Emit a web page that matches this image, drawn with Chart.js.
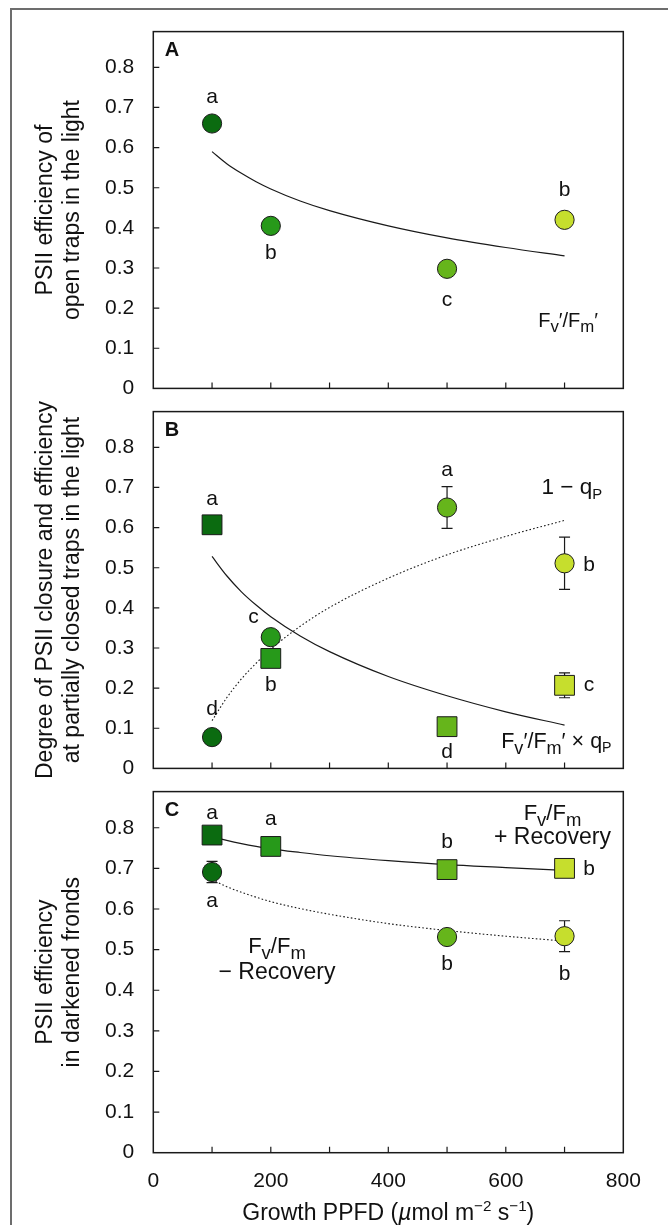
<!DOCTYPE html>
<html><head><meta charset="utf-8">
<script src="https://cdn.jsdelivr.net/npm/chart.js@4.4.0/dist/chart.umd.min.js"></script>
<style>
html,body{margin:0;padding:0;background:#fff;}
#wrap{position:relative;width:668px;height:1225px;overflow:hidden;background:#fff;}
#frame{position:absolute;left:10px;top:8px;width:720px;height:1300px;border-left:2px solid #6d6d6d;border-top:2px solid #6d6d6d;}
canvas{position:absolute;left:0;}
</style></head><body>
<div id="wrap"><div id="frame"></div>
<canvas id="cA" width="668" height="420" style="top:0px"></canvas>
<canvas id="cB" width="668" height="420" style="top:380px"></canvas>
<canvas id="cC" width="668" height="465" style="top:760px"></canvas>
</div>
<script>
// ---------- data ----------
const ppfdLevels = [100, 200, 500, 700];
const xLabelValues = [0, 200, 400, 600, 800];

// fitted curves
const fitX = [100, 125, 150, 175, 200, 250, 300, 400, 500, 600, 700];

// Panel A: Fv'/Fm'
const fvfmPrime = [0.66, 0.405, 0.298, 0.42];
const sigA = ['a', 'b', 'c', 'b'];
const fitA = [0.59, 0.56, 0.536, 0.515, 0.497, 0.467, 0.443, 0.405, 0.375, 0.351, 0.33];

// Panel B: 1 - qP (circles) and Fv'/Fm' x qP (squares)
const oneMinusQp = [0.078, 0.327, 0.65, 0.511];
const oneMinusQpErr = [null, null, 0.052, 0.065];
const sigQp = ['d', 'c', 'a', 'b'];
const fvQp = [0.607, 0.274, 0.104, 0.207];
const fvQpErr = [null, null, null, 0.031];
const sigFvQp = ['a', 'b', 'd', 'c'];
const fitQp = [0.119, 0.176, 0.223, 0.262, 0.297, 0.354, 0.401, 0.474, 0.532, 0.578, 0.618];
const fitFvQp = [0.528, 0.48, 0.44, 0.407, 0.378, 0.33, 0.291, 0.229, 0.181, 0.141, 0.108];

// Panel C: Fv/Fm + Recovery (squares), Fv/Fm - Recovery (circles)
const fvfmRec = [0.782, 0.754, 0.697, 0.70];
const sigRec = ['a', 'a', 'b', 'b'];
const ppfdNoRec = [100, 500, 700];
const fvfmNoRec = [0.691, 0.531, 0.533];
const fvfmNoRecErr = [0.026, null, 0.038];
const sigNoRec = ['a', 'b', 'b'];
const fitRec = [0.778, 0.769, 0.761, 0.754, 0.748, 0.739, 0.731, 0.719, 0.709, 0.702, 0.695];
const fitNoRec = [0.672, 0.655, 0.641, 0.629, 0.618, 0.601, 0.587, 0.564, 0.547, 0.533, 0.521];

// ---------- styles ----------
const FAM = '"Liberation Sans", Arial, Helvetica, sans-serif';
Chart.defaults.font.family = FAM;
Chart.defaults.color = '#111';
const greens = ['#0b6b10', '#27991a', '#66b51b', '#c6de2d'];
const colorFor = x => greens[ppfdLevels.indexOf(x)];
const INK = '#1a1a1a';

function pts(xs, ys) { return xs.map((x, i) => ({x: x, y: ys[i]})); }

function markerSet(xs, ys, style) {
  return {
    data: pts(xs, ys), showLine: false,
    pointStyle: style, pointRadius: style === 'rect' ? 14 : 9.6,
    pointBackgroundColor: xs.map(colorFor), pointBorderColor: INK, pointBorderWidth: 1
  };
}
function curveSet(ys, dotted) {
  return {
    data: pts(fitX, ys), showLine: true, pointRadius: 0, borderColor: INK,
    borderWidth: dotted ? 1.1 : 1.2, borderDash: dotted ? [1.6, 2.2] : [],
    cubicInterpolationMode: 'monotone', fill: false
  };
}

function drawRich(ctx, parts, x, y, align, size) {
  const fontFor = k => {
    let s = size, it = '';
    if (k === 'sub') s = size * 0.84;
    if (k === 'subP') s = size * 0.66;
    if (k === 'sup') s = size * 0.66;
    if (k === 'it') it = 'italic ';
    return it + s.toFixed(1) + 'px ' + FAM;
  };
  const dyFor = k => k === 'sub' ? size * 0.27 : k === 'subP' ? size * 0.2 : k === 'sup' ? -size * 0.4 : 0;
  let w = 0;
  parts.forEach(p => { ctx.font = fontFor(p[1]); w += ctx.measureText(p[0]).width; });
  let cx = align === 'center' ? x - w / 2 : align === 'right' ? x - w : x;
  ctx.textAlign = 'left'; ctx.textBaseline = 'alphabetic'; ctx.fillStyle = '#111';
  parts.forEach(p => { ctx.font = fontFor(p[1]); ctx.fillText(p[0], cx, y + dyFor(p[1])); cx += ctx.measureText(p[0]).width; });
}

function makePanel(o) {
  const decor = {
    id: 'decor',
    beforeDatasetsDraw(chart) {
      const ctx = chart.ctx, sx = chart.scales.x, sy = chart.scales.y;
      ctx.save(); ctx.strokeStyle = INK; ctx.lineWidth = 1.2;
      (o.errors || []).forEach(e => {
        e.xs.forEach((xv, i) => {
          const er = e.err[i]; if (er == null) return;
          const px = sx.getPixelForValue(xv);
          const t = sy.getPixelForValue(e.ys[i] + er), b = sy.getPixelForValue(e.ys[i] - er);
          ctx.beginPath();
          ctx.moveTo(px, t); ctx.lineTo(px, b);
          ctx.moveTo(px - 5.5, t); ctx.lineTo(px + 5.5, t);
          ctx.moveTo(px - 5.5, b); ctx.lineTo(px + 5.5, b);
          ctx.stroke();
        });
      });
      ctx.restore();
    },
    afterDatasetsDraw(chart) {
      const ctx = chart.ctx, a = chart.chartArea, sx = chart.scales.x, sy = chart.scales.y;
      ctx.save();
      // frame
      ctx.strokeStyle = INK; ctx.lineWidth = 1.5;
      ctx.strokeRect(a.left, a.top, a.right - a.left, a.bottom - a.top);
      // inward tick marks
      ctx.lineWidth = 1.2; ctx.beginPath();
      sx.ticks.forEach(t => {
        if (t.value <= sx.min || t.value >= sx.max) return;
        const px = sx.getPixelForValue(t.value);
        ctx.moveTo(px, a.bottom); ctx.lineTo(px, a.bottom - 6);
      });
      sy.ticks.forEach(t => {
        if (t.value <= sy.min) return;
        const py = sy.getPixelForValue(t.value);
        ctx.moveTo(a.left, py); ctx.lineTo(a.left + 6, py);
      });
      ctx.stroke();
      // panel letter
      ctx.font = 'bold 20px ' + FAM; ctx.fillStyle = '#111';
      ctx.textAlign = 'left'; ctx.textBaseline = 'alphabetic';
      ctx.fillText(o.letter, a.left + 11.5, a.top + 24);
      // significance letters
      ctx.font = '21px ' + FAM; ctx.textAlign = 'center';
      (o.sigs || []).forEach(s => {
        s.xs.forEach((xv, i) => {
          const px = sx.getPixelForValue(xv), py = sy.getPixelForValue(s.ys[i]);
          ctx.fillText(s.labels[i], px + s.off[i][0], py + s.off[i][1]);
        });
      });
      // annotations
      (o.notes || []).forEach(n => {
        drawRich(ctx, n.parts, sx.getPixelForValue(n.x), sy.getPixelForValue(n.y), n.align, n.size);
      });
      if (o.xTitle) {
        drawRich(ctx, o.xTitle, (a.left + a.right) / 2, a.bottom + 67.3, 'center', 23);
      }
      ctx.restore();
    }
  };
  return new Chart(document.getElementById(o.id), {
    type: 'scatter',
    data: {datasets: o.datasets},
    options: {
      responsive: false, animation: false, events: [],
      layout: {padding: {left: 0, right: 44.7, top: o.padTop, bottom: o.padBottom}},
      plugins: {legend: {display: false}, tooltip: {enabled: false}},
      scales: {
        x: {
          type: 'linear', min: 0, max: 800,
          ticks: {stepSize: 100, autoSkip: false, display: o.showX, padding: 16, maxRotation: 0,
            font: {size: 21}, callback: v => xLabelValues.includes(v) ? String(v) : ''},
          grid: {display: false, drawTicks: false}, border: {display: false},
          afterFit: s => { s.height = o.xHeight; }
        },
        y: {
          type: 'linear', min: 0, max: 0.889,
          ticks: {stepSize: 0.1, includeBounds: false, padding: 19, font: {size: 21},
            callback: v => v === 0 ? '0' : v.toFixed(1)},
          grid: {display: false, drawTicks: false}, border: {display: false},
          title: {display: true, text: o.yTitle, color: '#111',
            font: {size: 23, lineHeight: '27px'}, padding: {top: 32, bottom: 0}},
          afterFit: s => { s.width = 153.3; }
        }
      }
    },
    plugins: [decor]
  });
}

const FvFmPrime = [['F'], ['v', 'sub'], ['′'], ['/'], ['F'], ['m', 'sub'], ['′']];
const FvFm = [['F'], ['v', 'sub'], ['/'], ['F'], ['m', 'sub']];

makePanel({
  id: 'cA', letter: 'A', padTop: 27, padBottom: 17.5, xHeight: 0, showX: false,
  yTitle: ['PSII efficiency of', 'open traps in the light'],
  datasets: [markerSet(ppfdLevels, fvfmPrime, 'circle'), curveSet(fitA, false)],
  sigs: [{xs: ppfdLevels, ys: fvfmPrime, labels: sigA, off: [[0, -21], [0, 33], [0, 37], [0, -24]]}],
  notes: [{x: 757, y: 0.154, align: 'right', size: 20, parts: FvFmPrime}]
});

makePanel({
  id: 'cB', letter: 'B', padTop: 22.5, padBottom: 21.7, xHeight: 0, showX: false,
  yTitle: ['Degree of PSII closure and efficiency', 'at partially closed traps in the light'],
  datasets: [markerSet(ppfdLevels, oneMinusQp, 'circle'), markerSet(ppfdLevels, fvQp, 'rect'),
             curveSet(fitQp, true), curveSet(fitFvQp, false)],
  errors: [{xs: ppfdLevels, ys: oneMinusQp, err: oneMinusQpErr}, {xs: ppfdLevels, ys: fvQp, err: fvQpErr}],
  sigs: [{xs: ppfdLevels, ys: oneMinusQp, labels: sigQp, off: [[0, -22], [-17.3, -14], [0, -32], [24.5, 7.5]]},
         {xs: ppfdLevels, ys: fvQp, labels: sigFvQp, off: [[0, -20], [0, 33], [0, 31], [24.5, 6]]}],
  notes: [{x: 764, y: 0.683, align: 'right', size: 22.5, parts: [['1 − q'], ['P', 'subP']]},
          {x: 780, y: 0.051, align: 'right', size: 21.5, parts: FvFmPrime.concat([[' × q'], ['P', 'subP']])}]
});

makePanel({
  id: 'cC', letter: 'C', padTop: 18.3, padBottom: 0, xHeight: 72.3, showX: true,
  yTitle: ['PSII efficiency', 'in darkened fronds'],
  datasets: [markerSet(ppfdLevels, fvfmRec, 'rect'), markerSet(ppfdNoRec, fvfmNoRec, 'circle'),
             curveSet(fitRec, false), curveSet(fitNoRec, true)],
  errors: [{xs: ppfdNoRec, ys: fvfmNoRec, err: fvfmNoRecErr}],
  sigs: [{xs: ppfdLevels, ys: fvfmRec, labels: sigRec, off: [[0, -16.5], [0, -21], [0, -21.5], [24.5, 6.3]]},
         {xs: ppfdNoRec, ys: fvfmNoRec, labels: sigNoRec, off: [[0, 35], [0, 33], [0, 44]]}],
  notes: [{x: 679.5, y: 0.819, align: 'center', size: 22, parts: FvFm},
          {x: 679.5, y: 0.760, align: 'center', size: 23, parts: [['+ Recovery']]},
          {x: 210.5, y: 0.492, align: 'center', size: 22, parts: FvFm},
          {x: 210.5, y: 0.4285, align: 'center', size: 23, parts: [['− Recovery']]}],
  xTitle: [['Growth PPFD ('], ['µ', 'it'], ['mol m'], ['−2', 'sup'], [' s'], ['−1', 'sup'], [')']]
});
</script>
</body></html>
